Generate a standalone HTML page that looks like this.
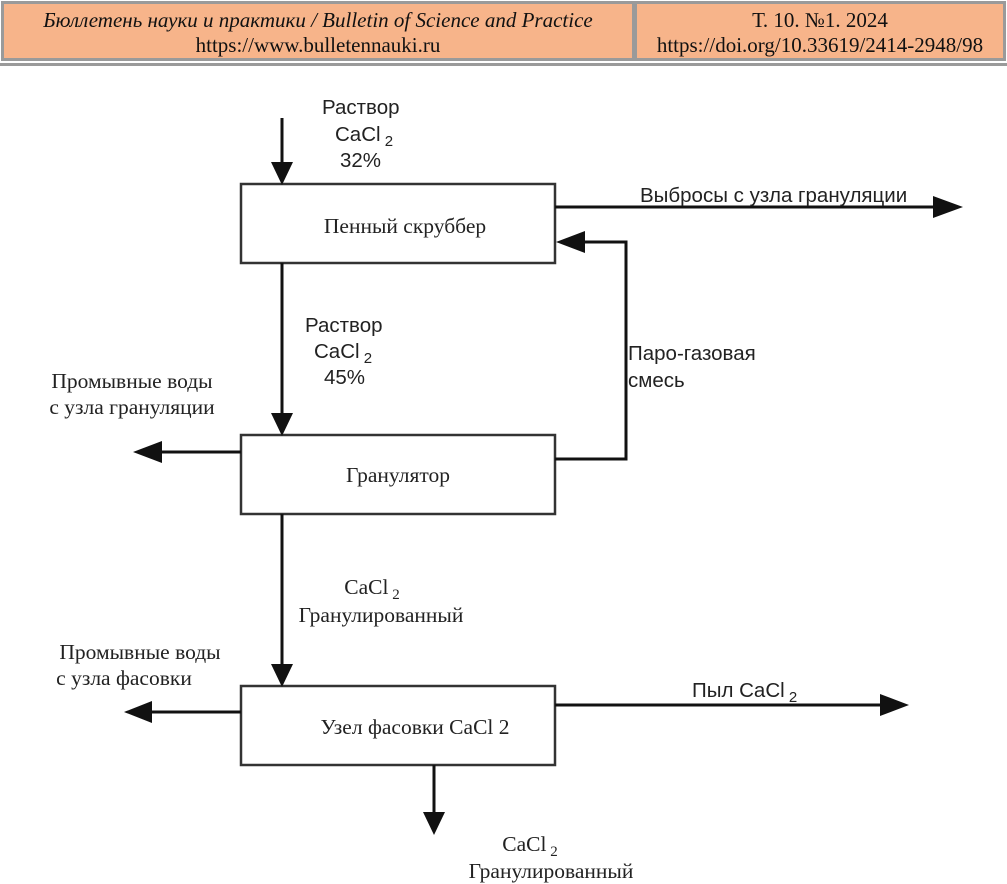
<!DOCTYPE html>
<html><head><meta charset="utf-8"><style>
body{margin:0;width:1007px;height:884px;background:#fff;overflow:hidden;position:relative}
.h{position:absolute;top:1px;height:60px;background:#f7b48a;border:3px solid #9a9a9a;box-sizing:border-box;font-family:"Liberation Serif",serif;font-size:21px;color:#111;text-align:center;line-height:25px;padding-top:4px}
</style></head><body>
<div class="h" style="left:1px;width:634px"><i>Бюллетень науки и практики / Bulletin of Science and Practice</i><br>https://www.bulletennauki.ru</div>
<div class="h" style="left:634px;width:372px">Т. 10. №1. 2024<br>https://doi.org/10.33619/2414-2948/98</div>
<div style="position:absolute;left:0;top:63px;width:1007px;height:3px;background:#9a9a9a"></div>
<svg width="1007" height="884" style="position:absolute;left:0;top:0" font-size="21.5">
<g fill="#fff" stroke="#333" stroke-width="2.5">
<rect x="241" y="184" width="314" height="79"/>
<rect x="241" y="435" width="314" height="79"/>
<rect x="241" y="686" width="314" height="79"/>
</g>
<g stroke="#111" stroke-width="3" fill="none">
<line x1="282" y1="118" x2="282" y2="165"/>
<line x1="282" y1="263" x2="282" y2="416"/>
<line x1="282" y1="514" x2="282" y2="667"/>
<line x1="434" y1="765" x2="434" y2="815"/>
<line x1="555" y1="207" x2="935" y2="207"/>
<polyline points="555,459 626,459 626,242 583,242"/>
<line x1="241" y1="452" x2="160" y2="452"/>
<line x1="241" y1="712" x2="150" y2="712"/>
<line x1="555" y1="705" x2="882" y2="705"/>
</g>
<g fill="#111">
<polygon points="271,162 293,162 282,185"/>
<polygon points="271,413 293,413 282,436"/>
<polygon points="271,664 293,664 282,687"/>
<polygon points="423,812 445,812 434,835"/>
<polygon points="933,196 933,218 963,207"/>
<polygon points="585,231 585,253 556,242"/>
<polygon points="162,441 162,463 133,452"/>
<polygon points="152,701 152,723 124,712"/>
<polygon points="880,694 880,716 909,705"/>
</g>
<g font-family="Liberation Serif,serif" fill="#222" text-anchor="middle">
<text x="405" y="233">Пенный скруббер</text>
<text x="398" y="482">Гранулятор</text>
<text x="415" y="734">Узел фасовки CaCl 2</text>
<text x="132" y="388">Промывные воды</text>
<text x="132" y="414">с узла грануляции</text>
<text x="140" y="659">Промывные воды</text>
<text x="124" y="685">с узла фасовки</text>
<text x="372" y="594">CaCl<tspan font-size="15" dy="5"> 2</tspan></text>
<text x="381" y="622">Гранулированный</text>
<text x="530" y="851">CaCl<tspan font-size="15" dy="5"> 2</tspan></text>
<text x="551" y="878">Гранулированный</text>
</g>
<g font-family="Liberation Sans,sans-serif" fill="#222" font-size="20.5">
<text x="322" y="114">Раствор</text>
<text x="335" y="141">CaCl<tspan font-size="15" dy="5"> 2</tspan></text>
<text x="340" y="167">32%</text>
<text x="305" y="332">Раствор</text>
<text x="314" y="358">CaCl<tspan font-size="15" dy="5"> 2</tspan></text>
<text x="324" y="384">45%</text>
<text x="640" y="202">Выбросы с узла грануляции</text>
<text x="628" y="360">Паро-газовая</text>
<text x="628" y="387">смесь</text>
<text x="692" y="697">Пыл CaCl<tspan font-size="15" dy="5"> 2</tspan></text>
</g>
</svg>
</body></html>
